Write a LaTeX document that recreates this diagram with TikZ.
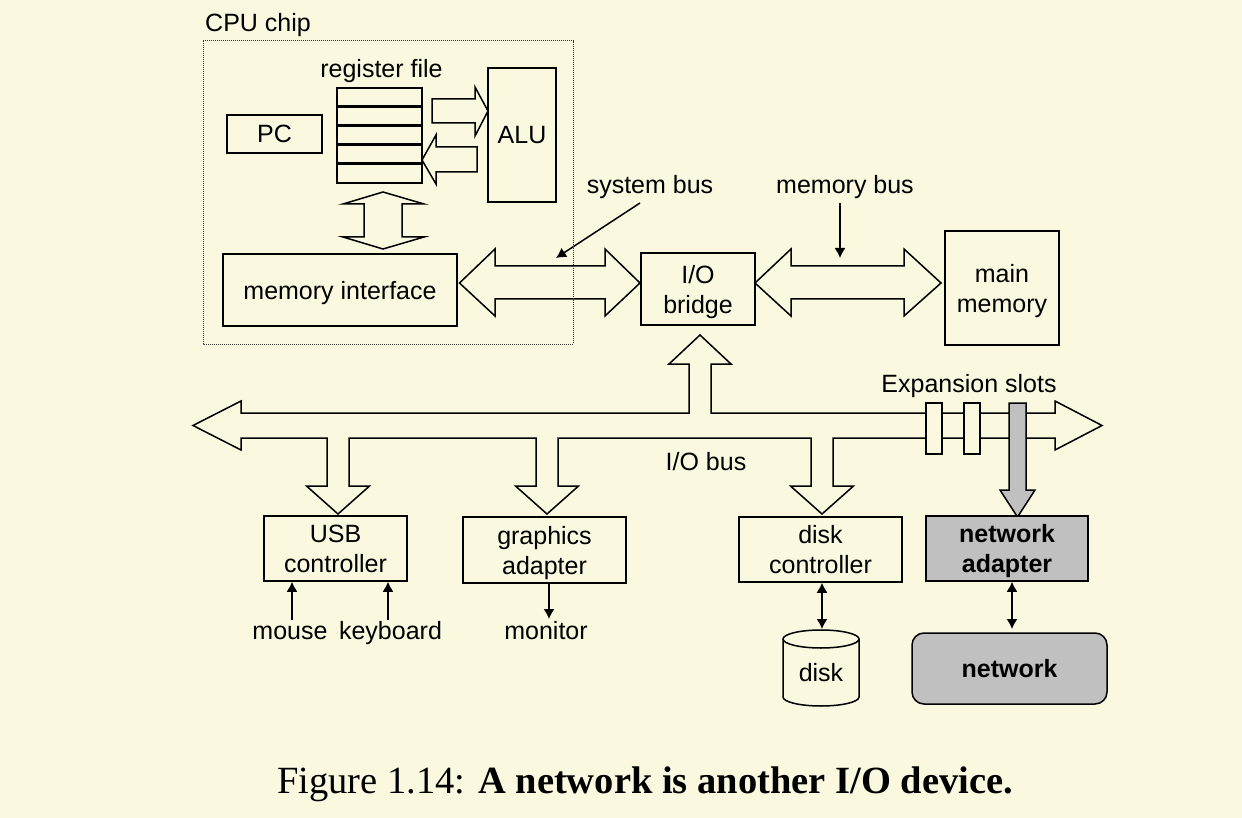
\documentclass[tikz,border=0pt]{standalone}
\usepackage{fontspec}
\setmainfont{Liberation Sans}
\newfontfamily\capfont{Liberation Serif}
\usetikzlibrary{arrows.meta}
\definecolor{bg}{RGB}{250,248,223}
\definecolor{boxgray}{RGB}{192,192,192}
\begin{document}
\begin{tikzpicture}[x=1pt,y=-1pt,
  every node/.style={font=\fontsize{25}{30}\selectfont, inner sep=0pt},
  box/.style={draw, line width=1.5pt, text depth=0pt},
  fat/.style={draw, line width=1.5pt, fill=bg, line join=miter},
  thinarrow/.style={line width=1.5pt, -{Latex[length=10pt,width=11pt]}},
  bothways/.style={line width=1.5pt, {Latex[length=10pt,width=11pt]}-{Latex[length=10pt,width=11pt]}},
  lbl/.style={anchor=base},
  twoline/.style={align=center}
  ]
\fill[bg] (0,0) rectangle (1242,818);
\useasboundingbox (0,0) rectangle (1242,818);

% ---------- CPU chip ----------
\node[anchor=base west] (cpulbl) at (205,32) {CPU chip};
\node[box, minimum width=95pt, minimum height=38pt] (pc) at (274.5,134) {PC};
\node[lbl] (reglbl) at (381.5,78) {register file};
\node[box, minimum width=85pt, minimum height=95pt] (regfile) at (379.5,135.5) {};
\foreach \yy in {107,126,145,164} \draw[line width=3pt] (337,\yy) -- (422,\yy);
\node[box, minimum width=68pt, minimum height=134pt] (alu) at (522,135) {ALU};
\node[box, minimum width=234pt, minimum height=72pt] (memif) at (340,290) {memory interface};

% fat arrows inside CPU
\draw[fat] (432,99) -- (475,99) -- (475,87) -- (488,111) -- (475,136) -- (475,123) -- (432,123) -- cycle;
\draw[fat] (477,147) -- (436,147) -- (436,135) -- (422,160) -- (436,184) -- (436,172) -- (477,172) -- cycle;
\draw[fat] (383,192) -- (424,204) -- (402,204) -- (402,237) -- (424,237) -- (383,249)
  -- (343,237) -- (364,237) -- (364,204) -- (343,204) -- cycle;

% ---------- buses ----------
\node[box, minimum width=114pt, minimum height=72pt, twoline] (bridge) at (698,289) {I/O\\bridge};
\node[box, minimum width=114pt, minimum height=114pt, twoline] (mainmem) at (1002,288) {main\\memory};

\draw[fat] (459.5,283) -- (495,249) -- (495,266) -- (605,266) -- (605,249) -- (640,283)
  -- (605,316) -- (605,299) -- (495,299) -- (495,316) -- cycle;
\draw[fat] (755,283) -- (791,249) -- (791,266) -- (904,266) -- (904,249) -- (941,283)
  -- (904,316) -- (904,299) -- (791,299) -- (791,316) -- cycle;

\node[lbl] (sysbus) at (650,194) {system bus};
\node[lbl] (membus) at (845,194) {memory bus};
\coordinate (sbtip) at (556,258);
\coordinate (mbtip) at (840,258);
\draw[thinarrow] ([shift={(-10,9)}]sysbus.base) -- (sbtip);
\draw[thinarrow] (mbtip |- membus.base) ++(0,9) -- (mbtip);

% I/O bus
\draw[fat] (193,425.5) -- (241,401) -- (241,413) -- (689,413) -- (689,364) -- (669,364)
  -- (700,335) -- (731,364) -- (711,364) -- (711,413) -- (1055,413) -- (1055,401)
  -- (1102,425.5) -- (1055,450) -- (1055,438) -- (833,438) -- (833,486) -- (853.5,486)
  -- (822,514) -- (790.5,486) -- (811,486) -- (811,438) -- (558,438) -- (558,486)
  -- (578.5,486) -- (547,514) -- (515.5,486) -- (536,486) -- (536,438) -- (349,438)
  -- (349,486) -- (369.5,486) -- (338,514) -- (306.5,486) -- (327,486) -- (327,438)
  -- (241,438) -- (241,450) -- cycle;
\draw[box, fill=bg] (926,403) rectangle (942,454);
\draw[box, fill=bg] (964,403) rectangle (980,454);
\draw[fat, fill=boxgray] (1009,403) -- (1026,403) -- (1026,490) -- (1035,490) -- (1017.5,517)
  -- (1000,490) -- (1009,490) -- cycle;
\node[lbl] (explbl) at (969,392) {Expansion slots};
\node[lbl] (iobuslbl) at (706,470) {I/O bus};

% ---------- devices ----------
\node[box, minimum width=143pt, minimum height=65pt, twoline] (usb) at (335.5,548.5) {USB\\controller};
\node[box, minimum width=163pt, minimum height=66pt, twoline] (graphics) at (544.5,550) {graphics\\adapter};
\node[box, minimum width=163pt, minimum height=65pt, twoline] (diskctl) at (820.5,549.5) {disk\\controller};
\node[box, fill=boxgray, minimum width=162pt, minimum height=65pt, twoline, font=\fontsize{25}{30}\selectfont\bfseries] (netad) at (1007,548.5) {network\\adapter};
\node[box, fill=boxgray, rounded corners=12pt, minimum width=195pt, minimum height=71pt, font=\fontsize{25}{30}\selectfont\bfseries] (network) at (1009.5,668.5) {network};

\node[lbl] (mouse) at (290,639) {mouse};
\node[lbl] (kbd) at (390.5,639) {keyboard};
\node[lbl] (monitor) at (546,639) {monitor};
\coordinate (mtop) at (292,620);
\coordinate (ktop) at (388,620);
\coordinate (montip) at (549,619);
\draw[thinarrow] (mtop) -- (mtop |- usb.south);
\draw[thinarrow] (ktop) -- (ktop |- usb.south);
\draw[thinarrow] (montip |- graphics.south) -- (montip);

% disk cylinder
\draw[box, fill=bg] (783,639) -- (783,697) arc[start angle=180, end angle=360, x radius=38pt, y radius=9pt] -- (859,639);
\draw[box, fill=bg] (821,639) ellipse [x radius=38pt, y radius=9pt];
\node (disk) at (821,673) {disk};
\coordinate (disktop) at (822,629);
\draw[bothways] (disktop |- diskctl.south) -- (disktop);
\coordinate (nettop) at (1012,629);
\draw[bothways] (nettop |- netad.south) -- (nettop);

% CPU chip border
\draw[densely dotted, line width=1pt, black!80] (203,41) rectangle (573.5,344);

% caption
\node[anchor=base west, font=\capfont\fontsize{38.5}{40}\selectfont] (caption) at (277,793)
  {Figure 1.14: \textbf{A network is another I/O device.}};
\end{tikzpicture}
\end{document}
